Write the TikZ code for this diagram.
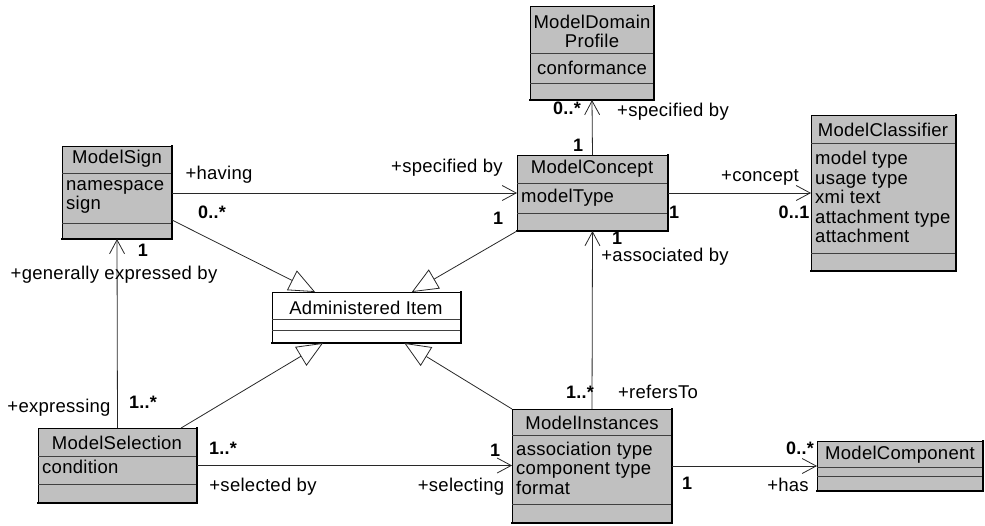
\documentclass[tikz,border=0pt]{standalone}
\usepackage{fontspec}
\setmainfont{Liberation Sans}[LetterSpace=1.5]
\usetikzlibrary{arrows.meta,calc}
\definecolor{boxgray}{RGB}{192,192,192}
\definecolor{divgray}{RGB}{64,64,64}
\definecolor{linegray}{RGB}{40,40,40}
\newcommand{\umlclass}[8]{%
  \node[cls, fill=#8, minimum width=#4pt, minimum height=#5pt] (#1) at (#2,#3) {};
  \draw[divider] ($(#1.north west)+(0,-#6pt)$) -- ($(#1.north east)+(0,-#6pt)$);
  \draw[divider] ($(#1.north west)+(0,-#7pt)$) -- ($(#1.north east)+(0,-#7pt)$);
  \draw[edge] (#1.north east) -- (#1.south east) -- (#1.south west);
}
\begin{document}
\begin{tikzpicture}[x=1pt,y=-1pt,
  cls/.style={draw=black, line width=0.8pt, rectangle, inner sep=0pt, outer sep=0pt, anchor=north west},
  divider/.style={draw=divgray, line width=0.9pt},
  edge/.style={draw=black, line width=1.4pt, line cap=rect},
  txt/.style={font=\fontsize{18.5}{19}\selectfont, inner sep=0pt, text=black},
  attr/.style={txt, anchor=west, align=left},
  mult/.style={txt, font=\bfseries\fontsize{18}{19}\selectfont},
  assoc/.style={draw=linegray, line width=0.8pt, -{Straight Barb[length=14pt,width=15pt,line width=0.8pt]}},
  gen/.style={draw=linegray, line width=0.8pt, -{Triangle[open, length=26pt, width=22pt, fill=white, line width=0.8pt]}}
]
\useasboundingbox (0,0) rectangle (985,525);

% classes
\umlclass{sign}{62}{146}{110}{93}{27}{77}{boxgray}
\umlclass{profile}{530}{6}{124}{94}{47}{77}{boxgray}
\umlclass{concept}{517}{155}{151}{76}{28}{58}{boxgray}
\umlclass{classifier}{811}{115}{145}{156}{28}{138}{boxgray}
\umlclass{admin}{272}{292}{189}{51}{27}{38}{white}
\umlclass{selection}{38}{428}{159}{75}{28}{56}{boxgray}
\umlclass{instances}{512}{409}{160}{114}{26}{95}{boxgray}
\umlclass{component}{817}{441}{166}{50}{26}{35}{boxgray}

% class texts
\node[txt] (signT) at (117,159) {ModelSign};
\node[attr, font=\fontsize{18.5}{18.5}\selectfont] (signA) at (66,197) {namespace\\sign};
\node[txt, align=center, font=\fontsize{18.5}{19}\selectfont] (profileT) at (592,31) {ModelDomain\\Profile};
\node[txt] (profileA) at (592,68) {conformance};
\node[txt] (conceptT) at (592,169) {ModelConcept};
\node[attr] (conceptA) at (521,198) {modelType};
\node[txt] (classifierT) at (883,130) {ModelClassifier};
\node[attr, font=\fontsize{18.5}{19.6}\selectfont] (classifierA) at (815,197) {model type\\usage type\\xmi text\\attachment type\\attachment};
\node[txt] (adminT) at (366,308) {Administered Item};
\node[txt] (selectionT) at (117,443) {ModelSelection};
\node[attr] (selectionA) at (42,467) {condition};
\node[txt] (instancesT) at (592,423) {ModelInstances};
\node[attr, font=\fontsize{18.5}{19.5}\selectfont] (instancesA) at (516,468) {association type\\component type\\format};
\node[txt] (componentT) at (900,455) {ModelComponent};

% associations
\draw[assoc] (sign.east |- concept.west) -- (concept.west);
\draw[assoc] (concept.north) -- (profile.south);
\draw[assoc] (concept.east) -- (classifier.west);
\draw[assoc] (instances.north) -- (concept.south);
\draw[assoc] (selection.north) -- (sign.south);
\draw[assoc] (selection.east) -- (instances.west |- selection.east);
\draw[assoc] (instances.east) -- (component.west);

% generalizations
\draw[gen] ($(sign.south east)+(0,19pt)$) -- ($(admin.north west)!0.228!(admin.north east)$);
\draw[gen] (concept.south west) -- ($(admin.north west)!0.74!(admin.north east)$);
\draw[gen] ($(selection.north west)!0.9!(selection.north east)$) -- ($(admin.south west)!0.27!(admin.south east)$);
\draw[gen] (instances.north west) -- ($(admin.south west)!0.70!(admin.south east)$);

% labels
\node[txt] (l1) at (219,175) {+having};
\node[mult] (m1) at (212,212) {0..*};
\node[txt] (l2) at (447,168) {+specified by};
\node[mult] (m2) at (498,218) {1};
\node[mult] (m3) at (567,108) {0..*};
\node[txt] (l3) at (673,112) {+specified by};
\node[mult] (m4) at (578,145) {1};
\node[txt] (l4) at (760,177) {+concept};
\node[mult] (m5) at (794,212) {0..1};
\node[mult] (m6) at (674,212) {1};
\node[mult] (m7) at (617,238) {1};
\node[txt] (l5) at (665,257) {+associated by};
\node[mult] (m8) at (143,250) {1};
\node[txt] (l6) at (114,275) {+generally expressed by};
\node[txt] (l7) at (59,408) {+expressing};
\node[mult] (m9) at (143,402) {1..*};
\node[mult] (m10) at (223,448) {1..*};
\node[txt] (l8) at (263,487) {+selected by};
\node[mult] (m11) at (495,450) {1};
\node[txt] (l9) at (461,487) {+selecting};
\node[mult] (m12) at (580,392) {1..*};
\node[txt] (l10) at (658,392) {+refersTo};
\node[mult] (m13) at (687,483) {1};
\node[mult] (m14) at (800,448) {0..*};
\node[txt] (l11) at (788,485) {+has};
\end{tikzpicture}
\end{document}
